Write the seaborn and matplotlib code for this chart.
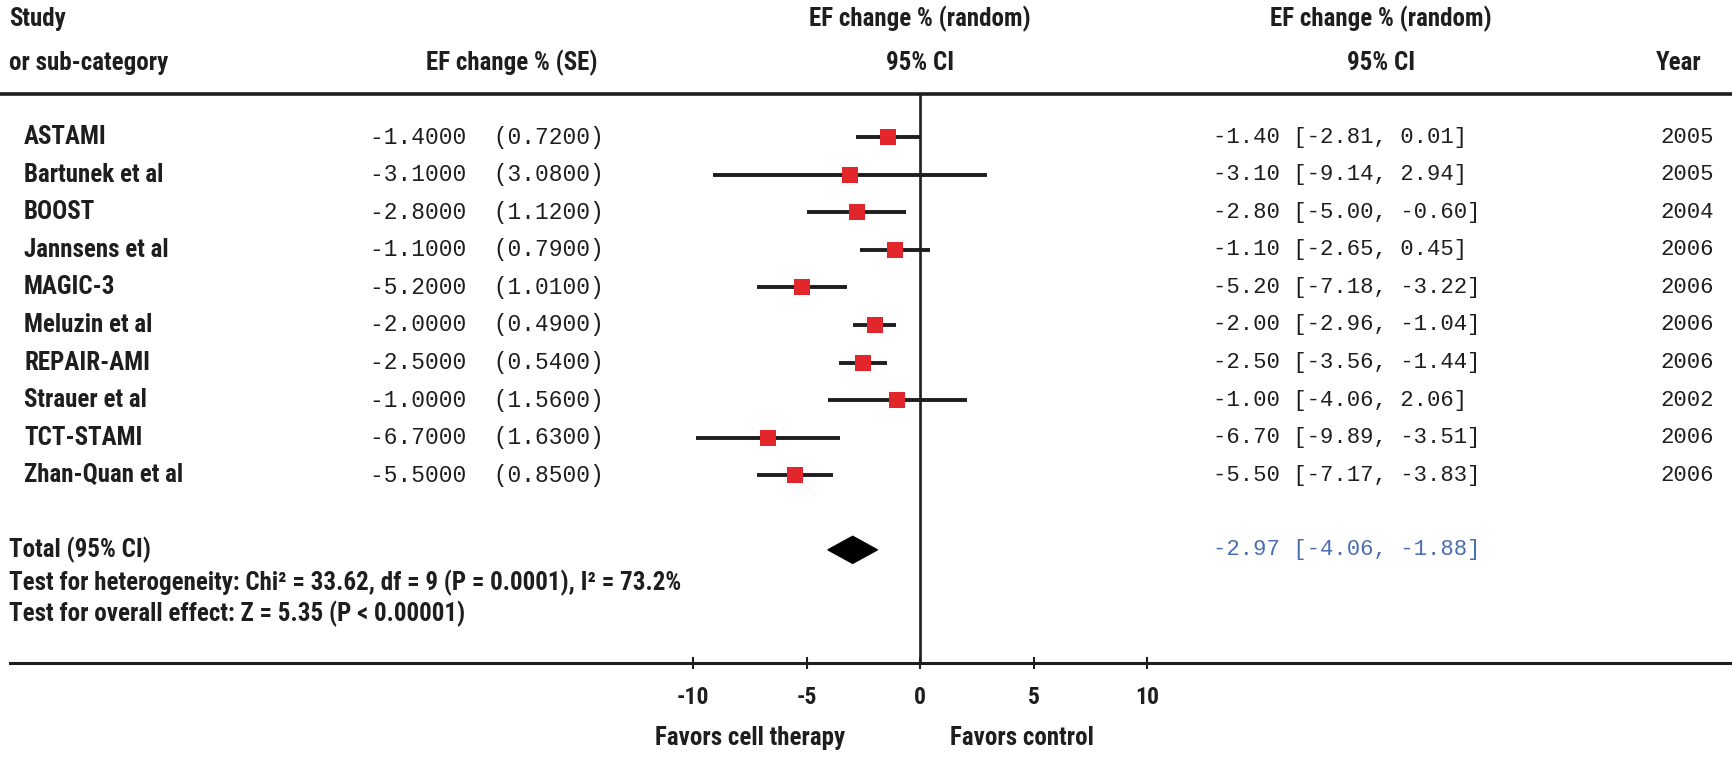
import matplotlib
matplotlib.use("Agg")
import matplotlib.pyplot as plt
import matplotlib.transforms as mtransforms
import pandas as pd
import seaborn as sns

# Data
studies = ["ASTAMI", "Bartunek et al", "BOOST", "Jannsens et al", "MAGIC-3",
           "Meluzin et al", "REPAIR-AMI", "Strauer et al", "TCT-STAMI", "Zhan-Quan et al"]
effect = [-1.40, -3.10, -2.80, -1.10, -5.20, -2.00, -2.50, -1.00, -6.70, -5.50]
se = [0.72, 3.08, 1.12, 0.79, 1.01, 0.49, 0.54, 1.56, 1.63, 0.85]
ci_low = [-2.81, -9.14, -5.00, -2.65, -7.18, -2.96, -3.56, -4.06, -9.89, -7.17]
ci_high = [0.01, 2.94, -0.60, 0.45, -3.22, -1.04, -1.44, 2.06, -3.51, -3.83]
years = [2005, 2005, 2004, 2006, 2006, 2006, 2006, 2002, 2006, 2006]
total_effect = -2.97
total_low = -4.06
total_high = -1.88
tick_values = [-10, -5, 0, 5, 10]

df = pd.DataFrame({"study": studies, "effect": effect, "se": se,
                   "low": ci_low, "high": ci_high, "year": years})
df["row"] = range(len(df))

sns.set_theme(style="white")
plt.rcParams["font.family"] = ["Roboto Condensed", "Liberation Sans", "DejaVu Sans"]
plt.rcParams["font.weight"] = "bold"

txt = "#1e1e1e"
mono = "Liberation Mono"
fs = 18
fs_se = 16.5
fs_ci = 16

fig = plt.figure(figsize=(17.33, 7.57), dpi=100)
ax = fig.add_axes([0, 0, 1, 1])
ax.set_xlim(-40.53, 35.81)
ax.set_ylim(16.49, -3.644)
for s in ["top", "left", "right"]:
    ax.spines[s].set_visible(False)

# bottom axis line with ticks
ax.spines["bottom"].set_position(("data", 14.0))
ax.spines["bottom"].set_bounds(-40.1, 35.81)
ax.spines["bottom"].set_linewidth(2.2)
ax.spines["bottom"].set_color(txt)
ax.set_xticks(tick_values)
ax.set_xticklabels([str(t) for t in tick_values], fontsize=17, color=txt, fontweight="bold")
ax.tick_params(axis="x", direction="inout", length=8, width=1.5, color=txt, pad=12, bottom=True)
ax.set_yticks([])
ax.grid(False)

# top rule and zero line
ax.axhline(-1.14, color=txt, lw=2.6)
ax.vlines(0, -1.14, 14.0, color=txt, lw=1.9)

# confidence intervals and point estimates
ax.hlines(df["row"], df["low"], df["high"], color=txt, lw=2.8, zorder=3)
sns.scatterplot(data=df, x="effect", y="row", marker="s", s=145, color="#e3262b",
                edgecolor="#e3262b", linewidth=0, ax=ax, zorder=4, legend=False)
ax.set_xlabel("")
ax.set_ylabel("")

# pooled diamond
ty = 10.98
ax.fill([total_low, total_effect, total_high, total_effect],
        [ty, ty - 0.36, ty, ty + 0.36], color="black", zorder=4)

tr = mtransforms.blended_transform_factory(ax.transAxes, ax.transData)

# headers
ax.text(0.0052, -3.14, "Study", transform=tr, fontsize=fs, color=txt, va="center")
ax.text(0.0052, -1.97, "or sub-category", transform=tr, fontsize=fs, color=txt, va="center")
ax.text(0.2953, -1.97, "EF change % (SE)", transform=tr, fontsize=fs, color=txt,
        va="center", ha="center")
ax.text(0, -3.14, "EF change % (random)", fontsize=fs, color=txt, va="center", ha="center")
ax.text(0, -1.97, "95% CI", fontsize=fs, color=txt, va="center", ha="center")
ax.text(0.797, -3.14, "EF change % (random)", transform=tr, fontsize=fs, color=txt,
        va="center", ha="center")
ax.text(0.797, -1.97, "95% CI", transform=tr, fontsize=fs, color=txt, va="center", ha="center")
ax.text(0.982, -1.97, "Year", transform=tr, fontsize=fs, color=txt, va="center", ha="right")

# study rows
for _, r in df.iterrows():
    y = r["row"]
    ax.text(0.0139, y, r["study"], transform=tr, fontsize=fs, color=txt, va="center")
    ax.text(0.2135, y, f"{r['effect']:.4f}  ({r['se']:.4f})", transform=tr,
            fontsize=fs_se, family=mono, fontweight="normal", color=txt, va="center")
    ax.text(0.700, y, f"{r['effect']:.2f} [{r['low']:.2f}, {r['high']:.2f}]", transform=tr,
            fontsize=fs_ci, family=mono, fontweight="normal", color=txt, va="center")
    ax.text(0.989, y, str(r["year"]), transform=tr, fontsize=fs_ci, family=mono,
            fontweight="normal", color=txt, va="center", ha="right")

# totals and tests
ax.text(0.0052, ty, "Total (95% CI)", transform=tr, fontsize=fs, color=txt, va="center")
ax.text(0.700, ty, f"{total_effect:.2f} [{total_low:.2f}, {total_high:.2f}]", transform=tr,
        fontsize=fs_ci, family=mono, fontweight="normal", color="#4a6db3", va="center")
ax.text(0.0052, 11.85, "Test for heterogeneity: Chi\u00b2 = 33.62, df = 9 (P = 0.0001), I\u00b2 = 73.2%",
        transform=tr, fontsize=fs, color=txt, va="center")
ax.text(0.0052, 12.69, "Test for overall effect: Z = 5.35 (P < 0.00001)",
        transform=tr, fontsize=fs, color=txt, va="center")

# direction labels
ax.text(-7.5, 15.98, "Favors cell therapy", fontsize=fs, color=txt, va="center", ha="center")
ax.text(4.5, 15.98, "Favors control", fontsize=fs, color=txt, va="center", ha="center")

fig.savefig("out.png", dpi=100, facecolor="white")
